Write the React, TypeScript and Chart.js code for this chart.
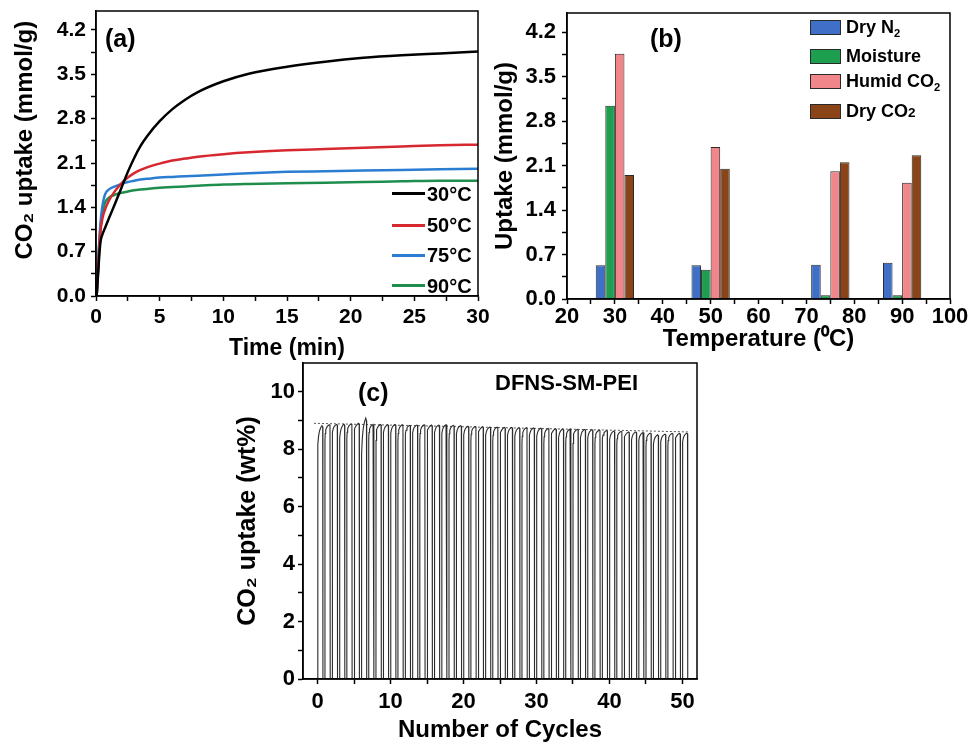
import React, { useEffect, useRef } from "react";
import { Chart, registerables } from "chart.js";
Chart.register(...registerables);

const FONT = "'Liberation Sans', Arial, Helvetica, sans-serif";

// ---------- Panel (a): CO2 uptake kinetics ----------
const timeMin = [0.05, 0.15, 0.25, 0.35, 0.5, 0.7, 1, 1.5, 2, 2.5, 3, 3.5, 4, 5, 6, 7, 8, 10, 12, 15, 18, 21, 24, 27, 30];
const uptake30C = [0, 0.3, 0.62, 0.85, 0.97, 1.07, 1.22, 1.46, 1.71, 1.96, 2.18, 2.37, 2.52, 2.76, 2.95, 3.1, 3.22, 3.39, 3.51, 3.62, 3.7, 3.76, 3.8, 3.83, 3.86];
const uptake50C = [0, 0.35, 0.75, 1.02, 1.22, 1.36, 1.5, 1.66, 1.78, 1.87, 1.94, 1.99, 2.03, 2.09, 2.14, 2.17, 2.2, 2.24, 2.27, 2.3, 2.32, 2.34, 2.36, 2.38, 2.39];
const uptake75C = [0, 0.4, 0.85, 1.15, 1.42, 1.6, 1.68, 1.73, 1.77, 1.8, 1.82, 1.84, 1.85, 1.87, 1.88, 1.89, 1.9, 1.92, 1.94, 1.96, 1.97, 1.98, 1.99, 2.0, 2.01];
const uptake90C = [0, 0.4, 0.8, 1.05, 1.3, 1.47, 1.55, 1.6, 1.63, 1.65, 1.67, 1.68, 1.69, 1.71, 1.72, 1.73, 1.74, 1.76, 1.77, 1.78, 1.79, 1.8, 1.81, 1.82, 1.82];
const kineticSeries = [uptake30C, uptake50C, uptake75C, uptake90C];
const kineticLabels = ["30°C", "50°C", "75°C", "90°C"];
const kineticColors = ["#000000", "#d7282f", "#2b7dd2", "#1f8e4d"];
const timeMajorTicks = [0, 5, 10, 15, 20, 25, 30];
const timeMinorTicks = [2.5, 7.5, 12.5, 17.5, 22.5, 27.5];
const uptakeMajorTicks = [0, 0.7, 1.4, 2.1, 2.8, 3.5, 4.2];
const uptakeMinorTicks = [0.35, 1.05, 1.75, 2.45, 3.15, 3.85];

// ---------- Panel (b): uptake vs temperature ----------
const temperatures = [30, 50, 75, 90];
const dryN2 = [0.53, 0.53, 0.54, 0.57];
const moisture = [3.04, 0.46, 0.06, 0.06];
const humidCO2 = [3.86, 2.39, 2.01, 1.83];
const dryCO2 = [1.95, 2.05, 2.15, 2.26];
const barSeries = [dryN2, moisture, humidCO2, dryCO2];
const barNames = ["Dry N2", "Moisture", "Humid CO2", "Dry CO2"];
const barColors = ["#3f6fc6", "#1e9e4f", "#f0858a", "#8b4418"];
const tempMajorTicks = [20, 30, 40, 50, 60, 70, 80, 90, 100];
const tempMinorTicks = [25, 35, 45, 55, 65, 75, 85, 95];

// ---------- Panel (c): cycling ----------
const cycleNumbers = [0, 1, 2, 3, 4, 5, 6, 7, 8, 9, 10, 11, 12, 13, 14, 15, 16, 17, 18, 19, 20, 21, 22, 23, 24, 25, 26, 27, 28, 29, 30, 31, 32, 33, 34, 35, 36, 37, 38, 39, 40, 41, 42, 43, 44, 45, 46, 47, 48, 49, 50];
const cyclePeaks = [8.82, 8.85, 8.86, 8.87, 8.88, 8.9, 9.08, 8.86, 8.86, 8.85, 8.86, 8.85, 8.83, 8.84, 8.85, 8.84, 8.84, 8.85, 8.83, 8.82, 8.8, 8.79, 8.78, 8.77, 8.77, 8.76, 8.76, 8.75, 8.75, 8.74, 8.73, 8.72, 8.71, 8.7, 8.7, 8.69, 8.69, 8.68, 8.66, 8.65, 8.63, 8.62, 8.6, 8.6, 8.58, 8.56, 8.5, 8.52, 8.55, 8.55, 8.56];
const cycleKnees = [7.6, 8.3, 8.35, 8.0, 8.35, 8.3, 6.8, 8.35, 8.3, 8.35, 8.3, 8.3, 8.3, 8.35, 8.3, 8.3, 8.35, 8.3, 8.3, 8.3, 8.25, 8.3, 8.25, 8.25, 8.25, 8.2, 8.25, 8.2, 8.2, 8.25, 8.2, 8.2, 8.2, 8.15, 8.2, 8.2, 8.15, 8.15, 8.2, 8.15, 8.1, 8.15, 8.1, 8.1, 8.1, 8.1, 7.9, 8.05, 8.1, 8.05, 8.0];
const capOffsets = [0.01, 0.05, 0.12, 0.25, 0.42, 0.6, 0.7];
const capShares = [0, 0.45, 0.68, 0.84, 0.94, 1, 0.96];
const dropOffset = 0.73;
const refLineX = [-0.5, 50.9];
const refLineY = [8.9, 8.6];
const cycleMajorTicks = [0, 10, 20, 30, 40, 50];
const cycleMinorTicks = [5, 15, 25, 35, 45];
const wtMajorTicks = [0, 2, 4, 6, 8, 10];
const wtMinorTicks = [1, 3, 5, 7, 9];

const framePlugin = {
  id: "frame",
  afterDatasetsDraw(chart: any) {
    const { ctx, chartArea } = chart;
    ctx.save();
    ctx.strokeStyle = "#000";
    ctx.lineWidth = 1.5;
    ctx.strokeRect(chartArea.left, chartArea.top, chartArea.right - chartArea.left, chartArea.bottom - chartArea.top);
    ctx.restore();
  },
};

function axis(o: any) {
  const all = [...o.major, ...o.minor].sort((a: number, b: number) => a - b);
  return {
    type: "linear",
    min: o.min,
    max: o.max,
    offset: false,
    afterBuildTicks: (s: any) => {
      s.ticks = all.map((v: number) => ({ value: v }));
    },
    afterFit: (s: any) => {
      if (o.horizontal) s.height = o.size;
      else s.width = o.size;
      s.paddingLeft = 0;
      s.paddingRight = 0;
      s.paddingTop = 0;
      s.paddingBottom = 0;
    },
    grid: { display: true, offset: false, drawOnChartArea: false, drawTicks: true, tickLength: 5, tickWidth: 1.5, tickColor: "#000" },
    border: { display: true, color: "#000", width: 1.5 },
    ticks: {
      autoSkip: false,
      maxRotation: 0,
      minRotation: 0,
      includeBounds: false,
      padding: o.pad,
      color: "#000",
      font: { family: FONT, size: o.fontSize, weight: "bold" },
      callback: (v: number) => (o.major.some((m: number) => Math.abs(m - v) < 1e-6) ? Number(v).toFixed(o.digits) : ""),
    },
    title: {
      display: true,
      text: o.title,
      color: "#000",
      font: { family: FONT, size: o.titleSize, weight: "bold", lineHeight: 1 },
      padding: o.horizontal ? { top: 0, bottom: o.titlePad } : { top: o.titlePad, bottom: 0 },
    },
  };
}

function configA(): any {
  return {
    type: "line",
    data: {
      datasets: kineticSeries.map((s, i) => ({
        label: kineticLabels[i],
        data: timeMin.map((t, k) => ({ x: t, y: s[k] })),
        borderColor: kineticColors[i],
        borderWidth: 2.5,
        pointRadius: 0,
        cubicInterpolationMode: "monotone",
        fill: false,
      })),
    },
    options: {
      animation: false,
      responsive: false,
      layout: { padding: { top: 11, right: 12, left: 0, bottom: 0 } },
      plugins: { legend: { display: false }, tooltip: { enabled: false } },
      scales: {
        x: axis({ horizontal: true, min: 0, max: 30, major: timeMajorTicks, minor: timeMinorTicks, digits: 0, size: 69, pad: 4, fontSize: 21, title: "Time (min)", titleSize: 23, titlePad: 5 }),
        y: axis({ horizontal: false, min: 0, max: 4.5, major: uptakeMajorTicks, minor: uptakeMinorTicks, digits: 1, size: 96, pad: 5, fontSize: 21, title: "    CO₂ uptake (mmol/g)", titleSize: 24, titlePad: 13 }),
      },
    },
    plugins: [framePlugin],
  };
}

function configB(): any {
  return {
    type: "bar",
    data: {
      datasets: barSeries.map((s, i) => ({
        label: barNames[i],
        data: temperatures.map((t, k) => ({ x: t, y: s[k] })),
        backgroundColor: barColors[i],
        borderColor: "#2a2a2a",
        borderWidth: 1,
        categoryPercentage: 1.6,
        barPercentage: 1,
      })),
    },
    options: {
      animation: false,
      responsive: false,
      layout: { padding: { top: 13, right: 23, left: 0, bottom: 0 } },
      plugins: { legend: { display: false }, tooltip: { enabled: false } },
      scales: {
        x: axis({ horizontal: true, min: 20, max: 100, major: tempMajorTicks, minor: tempMinorTicks, digits: 0, size: 61, pad: 0, fontSize: 22, title: "Temperature (⁰C)", titleSize: 24, titlePad: 9 }),
        y: axis({ horizontal: false, min: 0, max: 4.5, major: uptakeMajorTicks, minor: uptakeMinorTicks, digits: 1, size: 77, pad: 6, fontSize: 22, title: "Uptake (mmol/g)", titleSize: 24, titlePad: 3 }),
      },
    },
    plugins: [framePlugin],
  };
}

function configC(): any {
  const trace = cycleNumbers.flatMap((c, i) => [
    { x: c, y: 0 },
    ...capOffsets.map((o, k) => ({ x: c + o, y: cycleKnees[i] + (cyclePeaks[i] - cycleKnees[i]) * capShares[k] })),
    { x: c + dropOffset, y: 0 },
  ]);
  return {
    type: "line",
    data: {
      datasets: [
        { label: "DFNS-SM-PEI", data: trace, borderColor: "#2b2b2b", borderWidth: 1.1, pointRadius: 0, tension: 0, fill: false },
        { label: "reference", data: refLineX.map((x, i) => ({ x, y: refLineY[i] })), borderColor: "#555", borderWidth: 1, borderDash: [2, 2], pointRadius: 0, fill: false },
      ],
    },
    options: {
      animation: false,
      responsive: false,
      layout: { padding: { top: 3, right: 13, left: 0, bottom: 0 } },
      plugins: { legend: { display: false }, tooltip: { enabled: false } },
      scales: {
        x: axis({ horizontal: true, min: -2, max: 52, major: cycleMajorTicks, minor: cycleMinorTicks, digits: 0, size: 64, pad: 5, fontSize: 22, title: "Number of Cycles", titleSize: 24, titlePad: 1 }),
        y: axis({ horizontal: false, min: 0, max: 11, major: wtMajorTicks, minor: wtMinorTicks, digits: 0, size: 73, pad: 3, fontSize: 22, title: "CO₂ uptake (wt%)", titleSize: 25, titlePad: 6 }),
      },
    },
    plugins: [framePlugin],
  };
}

function ChartCanvas({ make, left, top, width, height }: any) {
  const ref = useRef<HTMLCanvasElement | null>(null);
  useEffect(() => {
    const chart = new Chart(ref.current as HTMLCanvasElement, make());
    return () => chart.destroy();
  }, []);
  return <canvas ref={ref} width={width} height={height} style={{ position: "absolute", left, top, width, height }} />;
}

const txt = (size: number): React.CSSProperties => ({
  position: "absolute",
  fontFamily: FONT,
  fontWeight: "bold",
  fontSize: size,
  lineHeight: 1,
  color: "#000",
  whiteSpace: "nowrap",
});

const sub: React.CSSProperties = { fontSize: "0.62em", position: "relative", top: "0.35em" };

export default function App() {
  Chart.defaults.font.family = FONT;
  const legendARows = [193.3, 225, 255, 285.7];
  const legendBRows = [27, 56, 81, 111];
  const legendBText = [
    <>Dry N<span style={sub}>2</span></>,
    <>Moisture</>,
    <>Humid CO<span style={sub}>2</span></>,
    <>Dry CO<span style={{ fontSize: "0.75em" }}>2</span></>,
  ];
  return (
    <div style={{ position: "absolute", left: 0, top: 0, width: 973, height: 743, background: "#fff", overflow: "hidden" }}>
      <ChartCanvas make={configA} left={0} top={0} width={490} height={365} />
      <ChartCanvas make={configB} left={490} top={0} width={483} height={360} />
      <ChartCanvas make={configC} left={230} top={360} width={480} height={383} />

      <div style={{ ...txt(25), left: 105, top: 26 }}>(a)</div>
      <div style={{ ...txt(25), left: 650, top: 26 }}>(b)</div>
      <div style={{ ...txt(25), left: 358, top: 380 }}>(c)</div>
      <div style={{ ...txt(22), left: 495, top: 372 }}>DFNS-SM-PEI</div>

      {kineticLabels.map((l, i) => (
        <React.Fragment key={l}>
          <div style={{ position: "absolute", left: 392, top: legendARows[i] - 1.5, width: 33, height: 3, background: kineticColors[i] }} />
          <div style={{ ...txt(20), left: 427, top: legendARows[i] - 9.8 }}>{l}</div>
        </React.Fragment>
      ))}

      {barNames.map((n, i) => (
        <React.Fragment key={n}>
          <div style={{ position: "absolute", left: 810, top: legendBRows[i] - 7, width: 29, height: 13, background: barColors[i], border: "1px solid #2a2a2a" }} />
          <div style={{ ...txt(18), left: 846, top: legendBRows[i] - 8.8 }}>{legendBText[i]}</div>
        </React.Fragment>
      ))}
    </div>
  );
}
